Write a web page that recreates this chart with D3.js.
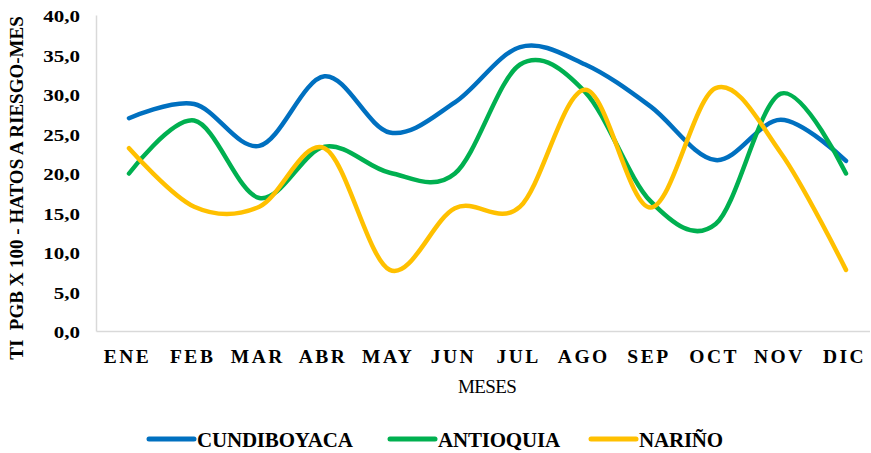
<!DOCTYPE html>
<html>
<head>
<meta charset="utf-8">
<script src="https://cdn.jsdelivr.net/npm/d3@7"></script>
<style>
  html, body { margin: 0; padding: 0; background: #fff; }
  svg { display: block; }
  text { font-family: "Liberation Serif", "Times New Roman", serif; fill: #000; white-space: pre; }
</style>
</head>
<body>
<svg id="chart" width="871" height="453"></svg>
<script>
// Monthly series (TI PGB x 100 – herds at risk per month)
const months = ["ENE", "FEB", "MAR", "ABR", "MAY", "JUN", "JUL", "AGO", "SEP", "OCT", "NOV", "DIC"];
const cundiboyaca = [27.0, 28.8, 23.5, 32.3, 25.2, 29.0, 36.0, 33.8, 28.5, 21.7, 26.8, 21.6];
const antioquia   = [20.0, 26.7, 16.9, 23.4, 20.1, 20.0, 33.8, 30.3, 16.5, 13.6, 30.1, 20.0];
const narino      = [23.2, 15.8, 15.8, 23.2, 7.8, 15.6, 15.8, 30.6, 15.7, 30.8, 22.6, 7.8];
const seriesNames = ["CUNDIBOYACA", "ANTIOQUIA", "NARIÑO"];
const yTicks = [0, 5, 10, 15, 20, 25, 30, 35, 40];

const series = [
  { name: seriesNames[0], values: cundiboyaca, color: "#0070C0" },
  { name: seriesNames[1], values: antioquia,   color: "#00B050" },
  { name: seriesNames[2], values: narino,      color: "#FFC000" }
];

const svg = d3.select("#chart");
const plot = { left: 96.5, right: 870, top: 15.5, bottom: 331.5 };

const x = d3.scalePoint().domain(months).range([129, 846]);
const y = d3.scaleLinear().domain([0, 40]).range([plot.bottom, plot.top]);

const fmt = v => d3.format(".1f")(v).replace(".", ",");
const serif = "Liberation Serif";

// axis lines
svg.append("line")
  .attr("x1", plot.left).attr("x2", plot.left)
  .attr("y1", plot.top).attr("y2", plot.bottom)
  .attr("stroke", "#d9d9d9").attr("stroke-width", 1.5);
svg.append("line")
  .attr("x1", plot.left).attr("x2", plot.right)
  .attr("y1", plot.bottom).attr("y2", plot.bottom)
  .attr("stroke", "#d9d9d9").attr("stroke-width", 1.5);

// y tick labels (wide numerals, right edge held at x = 80)
const yAxis = d3.axisLeft(y).tickValues(yTicks).tickFormat(fmt).tickSize(0).tickPadding(0);
const gy = svg.append("g").attr("transform", "translate(80,0)").call(yAxis);
gy.select(".domain").remove();
gy.selectAll(".tick text")
  .attr("font-family", serif)
  .attr("font-weight", "bold")
  .attr("font-size", 17.5)
  .attr("fill", "#000")
  .attr("x", 0)
  .attr("dy", "0.35em")
  .attr("transform", "scale(1.2,1)");

// x tick labels
const xAxis = d3.axisBottom(x).tickSize(0).tickPadding(0);
const gx = svg.append("g").attr("transform", "translate(0,363)").call(xAxis);
gx.select(".domain").remove();
gx.selectAll(".tick text")
  .attr("font-family", serif)
  .attr("font-weight", "bold")
  .attr("font-size", 19.5)
  .attr("letter-spacing", "2.5px")
  .attr("fill", "#000")
  .attr("y", 0)
  .attr("dy", 0)
  .attr("dx", -2);

// axis titles
svg.append("text")
  .attr("x", 487).attr("y", 393)
  .attr("text-anchor", "middle")
  .attr("font-size", 19)
  .attr("letter-spacing", "-0.6px")
  .text("MESES");

svg.append("text")
  .attr("transform", "translate(23,188) rotate(-90)")
  .attr("text-anchor", "middle")
  .attr("font-weight", "bold")
  .attr("font-size", 19)
  .text("TI  PGB X 100 - HATOS A RIESGO-MES");

// smoothed lines
const line = d3.line()
  .x((d, i) => x(months[i]))
  .y(d => y(d))
  .curve(d3.curveCardinal.tension(0));

svg.append("g").selectAll("path")
  .data(series)
  .join("path")
  .attr("d", d => line(d.values))
  .attr("fill", "none")
  .attr("stroke", d => d.color)
  .attr("stroke-width", 4.5)
  .attr("stroke-linecap", "round")
  .attr("stroke-linejoin", "round");

// legend
const legendX = [149, 390, 591];
const lg = svg.append("g").selectAll("g")
  .data(series)
  .join("g")
  .attr("transform", (d, i) => `translate(${legendX[i]},439)`);
lg.append("line")
  .attr("x1", 0).attr("x2", 45)
  .attr("stroke", d => d.color)
  .attr("stroke-width", 5)
  .attr("stroke-linecap", "round");
lg.append("text")
  .attr("x", 48).attr("y", 8)
  .attr("font-weight", "bold")
  .attr("font-size", 21)
  .attr("letter-spacing", "-0.2px")
  .text(d => d.name);
</script>
</body>
</html>
